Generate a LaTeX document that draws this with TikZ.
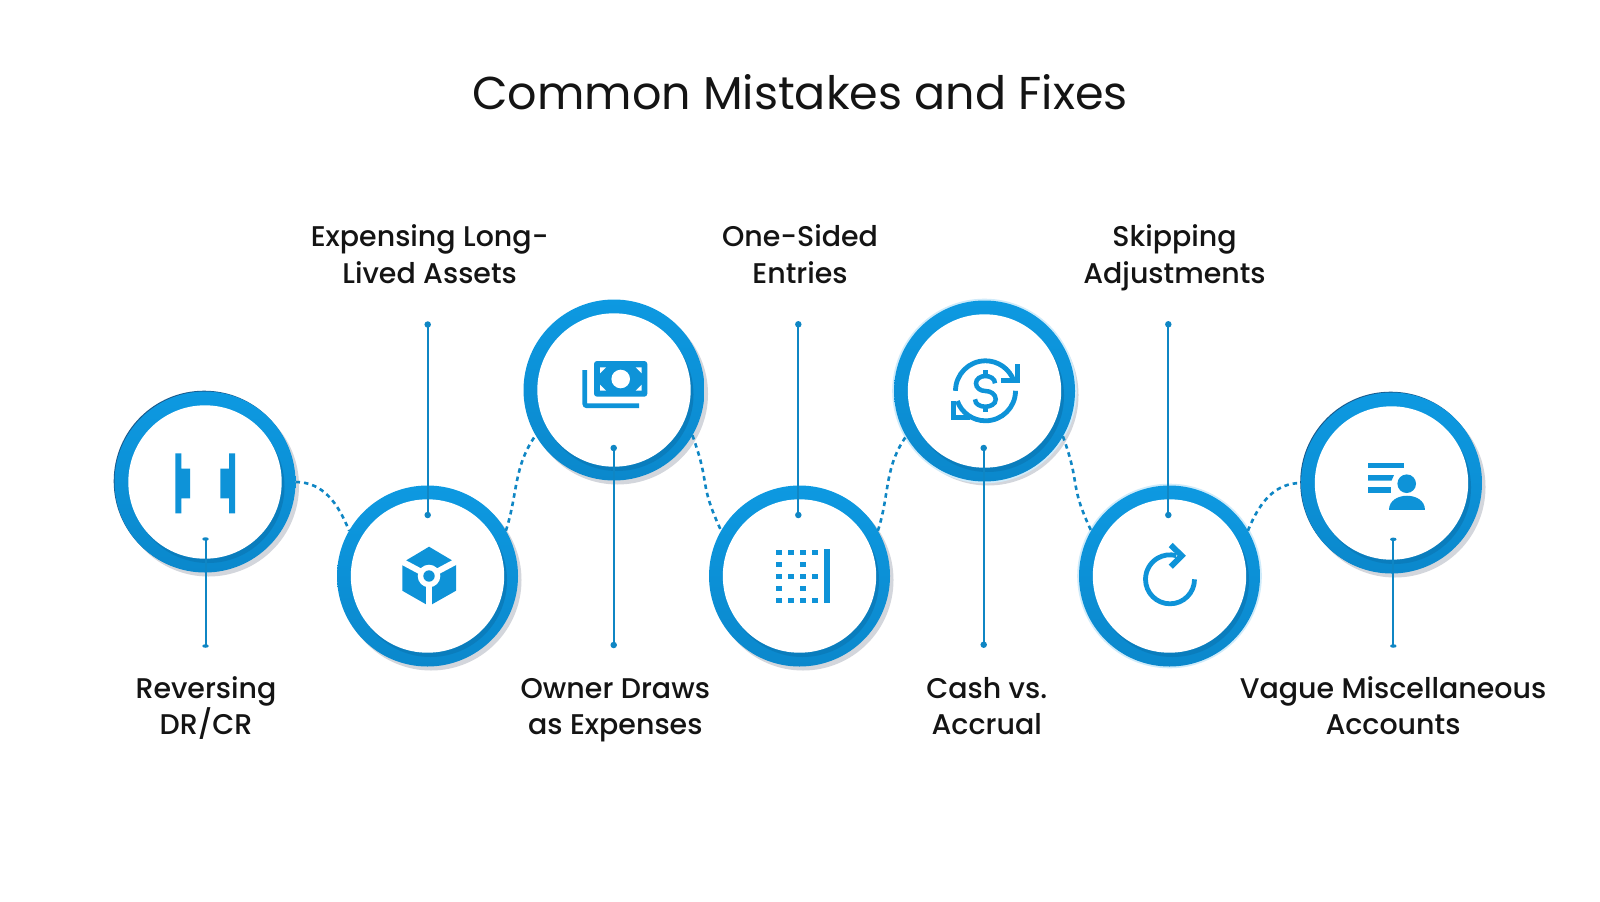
\documentclass[tikz,border=0pt]{standalone}
\usepackage{fontspec}
\usetikzlibrary{calc,shadows,shapes.geometric}
\newfontfamily\titlefont{Poppins}
\newfontfamily\labelfont{Poppins}[UprightFont=*-Medium]
\definecolor{ringtop}{HTML}{0D99E1}
\definecolor{ringbottom}{HTML}{0B88CC}
\definecolor{ringdark}{HTML}{0A7DBD}
\definecolor{linkblue}{HTML}{0F86C4}
\definecolor{iconblue}{HTML}{0E93D8}
\definecolor{shadowgray}{HTML}{D3D6DC}
\definecolor{edgenavy}{HTML}{1A5A8C}
\definecolor{glowblue}{HTML}{CFEBFA}
\newcommand{\ringsize}{1.81cm}
\newcommand{\whiteradius}{0.767cm}
\tikzset{
  ring/.style={circle, minimum size=\ringsize, inner sep=0, outer sep=0,
    top color=ringtop, bottom color=ringbottom,
    path picture={
      \fill[ringdark] ([shift={(0.03,-0.045)}]path picture bounding box.center) circle (0.765cm);
      \fill[white] (path picture bounding box.center) circle (\whiteradius);
    }},
  grayshadow/.style={general shadow={fill=shadowgray, shadow xshift=0.035cm, shadow yshift=-0.04cm}},
  navyedge/.style={general shadow={fill=edgenavy, shadow xshift=-0.008cm, shadow yshift=0.008cm}},
  glow/.style={general shadow={fill=glowblue, shadow scale=1.02}},
  pin/.style={circle, fill=linkblue, inner sep=0, outer sep=0, minimum size=0.065cm},
  flatpin/.style={ellipse, fill=linkblue, inner sep=0, outer sep=0, minimum width=0.065cm, minimum height=0.035cm},
  stem/.style={draw=linkblue, line width=0.02cm},
  link/.style={draw=linkblue, line width=0.026cm, dash pattern=on 0.045cm off 0.04cm},
  icon/.style={fill=iconblue},
  iconline/.style={draw=iconblue, line width=0.048cm},
  heading/.style={font=\titlefont\fontsize{13.1}{16}\selectfont, text=black!92, inner sep=0},
  caption/.style={font=\labelfont\fontsize{8.1}{10.4}\selectfont, text=black!92, align=center, inner sep=0}
}

\begin{document}
\begin{tikzpicture}
\useasboundingbox (0,0) rectangle (16,-9.01);
\fill[white] (0,0) rectangle (16,-9.01);
\node[heading] (title) at (8.0,-0.92) {Common Mistakes and Fixes};
% rings
\node[ring, grayshadow, navyedge] (c1) at (2.05,-4.82) {};
\node[ring, grayshadow] (c2) at (4.275,-5.76) {};
\node[ring, grayshadow] (c3) at (6.14,-3.90) {};
\node[ring, grayshadow] (c4) at (7.995,-5.76) {};
\node[ring, grayshadow, glow] (c5) at (9.845,-3.91) {};
\node[ring, glow] (c6) at (11.695,-5.76) {};
\node[ring, grayshadow, navyedge] (c7) at (13.915,-4.83) {};
% dashed links
\draw[link] (c1.0) to[out=0,in=112] (c2.150);
\draw[link] (c2.30) to[out=72,in=235] (c3.210);
\draw[link] (c3.330) to[out=-70,in=115,looseness=1.4] (c4.150);
\draw[link] (c4.30) to[out=72,in=235] (c5.210);
\draw[link] (c5.330) to[out=-70,in=115,looseness=1.4] (c6.150);
\draw[link] (c6.30) to[out=68,in=180] (c7.180);
% stems
\node[flatpin] (s1a) at (2.055,-5.39) {};
\node[flatpin] (s1b) at (2.055,-6.46) {};
\node[pin] (s2a) at (4.277,-3.245) {};
\node[pin] (s2b) at (4.277,-5.15) {};
\node[pin] (s3a) at (6.137,-4.48) {};
\node[pin] (s3b) at (6.137,-6.45) {};
\node[pin] (s4a) at (7.983,-3.243) {};
\node[pin] (s4b) at (7.983,-5.15) {};
\node[pin] (s5a) at (9.837,-4.48) {};
\node[pin] (s5b) at (9.837,-6.447) {};
\node[pin] (s6a) at (11.683,-3.243) {};
\node[pin] (s6b) at (11.683,-5.15) {};
\node[flatpin] (s7a) at (13.933,-5.393) {};
\node[flatpin] (s7b) at (13.933,-6.46) {};
\draw[stem] (s1a.center) -- (s1b.center);
\draw[stem] (s2a.center) -- (s2b.center);
\draw[stem] (s3a.center) -- (s3b.center);
\draw[stem] (s4a.center) -- (s4b.center);
\draw[stem] (s5a.center) -- (s5b.center);
\draw[stem] (s6a.center) -- (s6b.center);
\draw[stem] (s7a.center) -- (s7b.center);
% labels
\node[caption] (t1) at (2.06,-7.078) {Reversing\\DR/CR};
\node[caption] (t2) at (4.296,-2.54) {Expensing Long-\\Lived Assets};
\node[caption] (t3) at (6.153,-7.10) {Owner Draws\\as Expenses};
\node[caption] (t4) at (8.0,-2.54) {One-Sided\\Entries};
\node[caption] (t5) at (9.867,-7.06) {Cash vs.\\Accrual};
\node[caption] (t6) at (11.745,-2.575) {Skipping\\Adjustments};
\node[caption] (t7) at (13.93,-7.055) {Vague Miscellaneous\\Accounts};
% icon 1
\fill[icon] (1.753,-4.533) -- (1.813,-4.533) -- (1.813,-4.687) -- (1.90,-4.687) -- (1.90,-4.983) -- (1.813,-4.983) -- (1.813,-5.133) -- (1.753,-5.133) -- cycle;
\fill[icon] (2.35,-4.533) -- (2.29,-4.533) -- (2.29,-4.687) -- (2.203,-4.687) -- (2.203,-4.983) -- (2.29,-4.983) -- (2.29,-5.133) -- (2.35,-5.133) -- cycle;
% icon 2
\fill[icon] (4.29,-5.467) -- (4.56,-5.627) -- (4.56,-5.907) -- (4.29,-6.06) -- (4.023,-5.907) -- (4.023,-5.627) -- cycle;
\draw[white, line width=0.06cm] (3.99,-5.60) -- (4.29,-5.76) -- (4.59,-5.60);
\draw[white, line width=0.06cm] (4.29,-5.76) -- (4.29,-6.10);
\fill[white] (4.29,-5.76) circle (0.113);
\fill[icon] (4.29,-5.76) circle (0.057);
% icon 3
\draw[iconline, rounded corners=0.02cm] (5.848,-3.70) -- (5.848,-4.057) -- (6.39,-4.057);
\fill[icon, rounded corners=0.03cm] (5.94,-3.61) rectangle (6.473,-3.967);
\fill[white] (6.207,-3.79) circle (0.093);
\fill[white] (6.00,-3.673) -- (6.06,-3.673) -- (6.00,-3.733) -- cycle;
\fill[white] (6.417,-3.673) -- (6.357,-3.673) -- (6.417,-3.733) -- cycle;
\fill[white] (6.00,-3.907) -- (6.06,-3.907) -- (6.00,-3.847) -- cycle;
\fill[white] (6.417,-3.907) -- (6.357,-3.907) -- (6.417,-3.847) -- cycle;
% icon 4
\fill[icon] (7.762,-5.495) rectangle ++(0.057,-0.057);
\fill[icon] (7.882,-5.495) rectangle ++(0.057,-0.057);
\fill[icon] (8.002,-5.495) rectangle ++(0.057,-0.057);
\fill[icon] (8.122,-5.495) rectangle ++(0.057,-0.057);
\fill[icon] (7.762,-5.615) rectangle ++(0.057,-0.057);
\fill[icon] (8.002,-5.615) rectangle ++(0.057,-0.057);
\fill[icon] (7.762,-5.735) rectangle ++(0.057,-0.057);
\fill[icon] (7.882,-5.735) rectangle ++(0.057,-0.057);
\fill[icon] (8.002,-5.735) rectangle ++(0.057,-0.057);
\fill[icon] (8.122,-5.735) rectangle ++(0.057,-0.057);
\fill[icon] (7.762,-5.855) rectangle ++(0.057,-0.057);
\fill[icon] (8.002,-5.855) rectangle ++(0.057,-0.057);
\fill[icon] (7.762,-5.975) rectangle ++(0.057,-0.057);
\fill[icon] (7.882,-5.975) rectangle ++(0.057,-0.057);
\fill[icon] (8.002,-5.975) rectangle ++(0.057,-0.057);
\fill[icon] (8.122,-5.975) rectangle ++(0.057,-0.057);
\fill[icon] (8.243,-5.493) rectangle (8.30,-6.033);
% icon 5
\draw[iconline] (9.855,-3.908) ++(180:0.30) arc (180:20:0.30);
\draw[iconline] (9.855,-3.908) ++(0:0.30) arc (0:-160:0.30);
\draw[iconline, miter limit=4] (10.177,-3.64) -- (10.177,-3.807) -- (10.007,-3.807);
\draw[iconline, miter limit=4] (9.533,-4.01) -- (9.533,-4.177) -- (9.70,-4.177);
\draw[iconline, line width=0.045cm] (9.95,-3.833) to[out=90,in=0] (9.853,-3.76) to[out=180,in=90] (9.76,-3.833) to[out=270,in=180] (9.853,-3.91) to[out=0,in=90] (9.957,-3.993) to[out=270,in=0] (9.853,-4.067) to[out=180,in=270] (9.75,-3.993);
\draw[iconline, line width=0.045cm] (9.853,-3.70) -- (9.853,-3.76);
\draw[iconline, line width=0.045cm] (9.853,-4.067) -- (9.853,-4.117);
% icon 6
\draw[iconline] (11.70,-5.793) ++(0:0.245) arc (0:-285:0.245);
\draw[iconline, line width=0.058cm] (11.707,-5.45) -- (11.817,-5.557) -- (11.707,-5.667);
% icon 7
\fill[icon] (13.68,-4.627) rectangle (14.037,-4.683);
\fill[icon] (13.68,-4.75) -- (13.94,-4.75) -- (13.915,-4.807) -- (13.68,-4.807) -- cycle;
\fill[icon] (13.68,-4.87) rectangle (13.913,-4.927);
\fill[white] (14.067,-4.837) circle (0.125);
\fill[icon] (14.067,-4.837) circle (0.093);
\fill[icon] (13.89,-5.10) .. controls (13.89,-4.91) and (14.25,-4.91) .. (14.25,-5.10) -- cycle;
\end{tikzpicture}
\end{document}
